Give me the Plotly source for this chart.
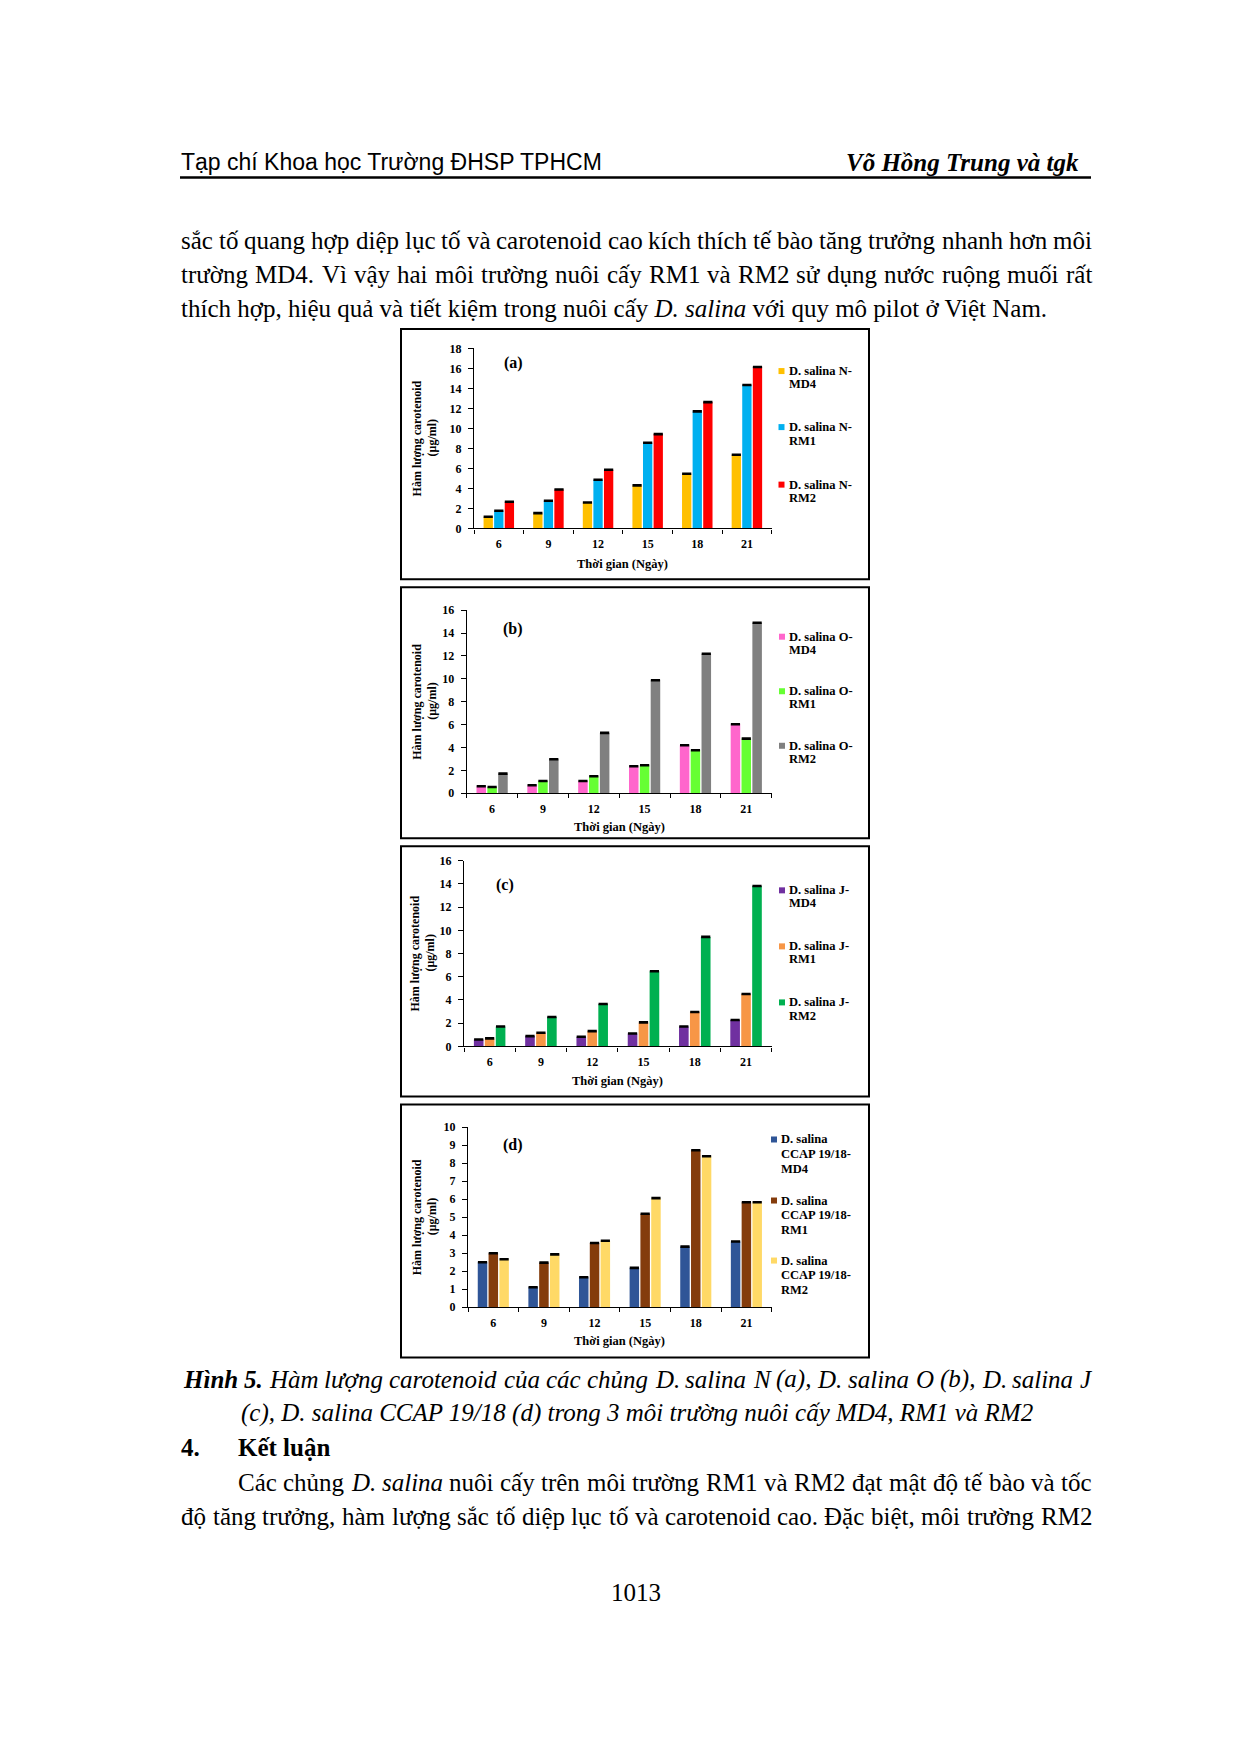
import unicodedata
import plotly.graph_objects as go

# Page is 1240x1754; the browser's default 8px body margin is kept,
# so the figure is 16px smaller and all page coordinates are offset by 8.
PAGE_W, PAGE_H = 1240, 1754
OFF = 8
W, H = PAGE_W - 2 * OFF, PAGE_H - 2 * OFF
# small vertical calibration of the page layout
V_SHIFT, V_SCALE = 7.2, 0.9914


def px(x):
    return (x - OFF) / W


def py(y):
    yy = (y - V_SHIFT) / V_SCALE
    return 1 - (yy - OFF) / H


# ---------------- data ----------------
days = ["6", "9", "12", "15", "18", "21"]

n_md4 = [1.17, 1.53, 2.6, 4.3, 5.47, 7.37]
n_rm1 = [1.77, 2.77, 4.87, 8.57, 11.7, 14.33]
n_rm2 = [2.67, 3.9, 5.87, 9.43, 12.63, 16.13]

o_md4 = [0.61, 0.7, 1.08, 2.36, 4.2, 6.03]
o_rm1 = [0.55, 1.08, 1.49, 2.45, 3.76, 4.78]
o_rm2 = [1.72, 2.97, 5.28, 9.88, 12.19, 14.9]

j_md4 = [0.6, 0.89, 0.83, 1.12, 1.72, 2.27]
j_rm1 = [0.69, 1.18, 1.32, 2.07, 2.96, 4.51]
j_rm2 = [1.72, 2.53, 3.65, 6.47, 9.43, 13.82]

c_md4 = [2.5, 1.11, 1.67, 2.19, 3.37, 3.65]
c_rm1 = [3.0, 2.48, 3.57, 5.19, 8.72, 5.83]
c_rm2 = [2.67, 2.94, 3.69, 6.06, 8.39, 5.83]

n_labels = [["D. salina N-", "MD4"], ["D. salina N-", "RM1"], ["D. salina N-", "RM2"]]
o_labels = [["D. salina O-", "MD4"], ["D. salina O-", "RM1"], ["D. salina O-", "RM2"]]
j_labels = [["D. salina J-", "MD4"], ["D. salina J-", "RM1"], ["D. salina J-", "RM2"]]
c_labels = [["D. salina", "CCAP 19/18-", "MD4"],
            ["D. salina", "CCAP 19/18-", "RM1"],
            ["D. salina", "CCAP 19/18-", "RM2"]]

y_title = ["Hàm lượng carotenoid", "(μg/ml)"]
x_title = "Thời gian (Ngày)"

# ---------------- page text ----------------
header_left = "Tạp chí Khoa học Trường ĐHSP TPHCM"
header_right = "Võ Hồng Trung và tgk"
para1 = [
    "sắc tố quang hợp diệp lục tố và carotenoid cao kích thích tế bào tăng trưởng nhanh hơn môi",
    "trường MD4. Vì vậy hai môi trường nuôi cấy RM1 và RM2 sử dụng nước ruộng muối rất",
]
para1_last = "thích hợp, hiệu quả và tiết kiệm trong nuôi cấy <i>D. salina</i> với quy mô pilot ở Việt Nam."
caption1 = "**Hình** **5.** Hàm lượng carotenoid của các chủng D. salina N (a), D. salina O (b), D. salina J"
caption2 = "(c), D. salina CCAP 19/18 (d) trong 3 môi trường nuôi cấy MD4, RM1 và RM2"
section_no = "4."
section_title = "Kết luận"
para2 = [
    "Các chủng *D.* *salina* nuôi cấy trên môi trường RM1 và RM2 đạt mật độ tế bào và tốc",
    "độ tăng trưởng, hàm lượng sắc tố diệp lục tố và carotenoid cao. Đặc biệt, môi trường RM2",
]
page_no = "1013"

# ---------------- styles ----------------
SERIF = "Liberation Serif, Times New Roman, serif"
SANS = "Liberation Sans, Arial, sans-serif"

panels = [
    dict(series=[n_md4, n_rm1, n_rm2], labels=n_labels,
         colors=["#FFC000", "#00B0F0", "#FF0000"], ymax=18, dtick=2, tag="(a)",
         frame=(401, 329, 869, 579), plot=(474, 348.3, 771.7, 528.3),
         ytx=424.5, xty=564, tag_xy=(513, 363),
         mx=781.5, tx=788, ly=[[371, 384], [427, 440.5], [484.5, 497.5]]),
    dict(series=[o_md4, o_rm1, o_rm2], labels=o_labels,
         colors=["#FF66CC", "#66FF33", "#808080"], ymax=16, dtick=2, tag="(b)",
         frame=(401, 587, 869, 838), plot=(466.7, 610, 771.7, 793),
         ytx=424.5, xty=827, tag_xy=(513, 629),
         mx=782, tx=788, ly=[[636.5, 650], [691, 704], [745.5, 758.5]]),
    dict(series=[j_md4, j_rm1, j_rm2], labels=j_labels,
         colors=["#7030A0", "#F79646", "#00B050"], ymax=16, dtick=2, tag="(c)",
         frame=(401, 846, 869, 1096), plot=(464, 860.3, 771.7, 1046),
         ytx=422.5, xty=1081, tag_xy=(505, 885),
         mx=782, tx=788, ly=[[890, 903], [946, 959], [1002, 1016]]),
    dict(series=[c_md4, c_rm1, c_rm2], labels=c_labels,
         colors=["#2F5597", "#843C0C", "#FFD966"], ymax=10, dtick=1, tag="(d)",
         frame=(401, 1104, 869, 1357), plot=(468, 1126.7, 771.7, 1306.7),
         ytx=424.5, xty=1340, tag_xy=(513, 1145),
         mx=774, tx=780, ly=[[1139, 1153.5, 1168], [1200, 1214, 1229], [1260, 1274.5, 1289]]),
]

# ---------------- font metrics (Times compatible) ----------------
def _tbl(lower, upper, extra):
    t = {}
    for ch, w in zip("abcdefghijklmnopqrstuvwxyz", lower):
        t[ch] = w
    for ch, w in zip("ABCDEFGHIJKLMNOPQRSTUVWXYZ", upper):
        t[ch] = w
    for d in "0123456789":
        t[d] = 500
    t.update(extra)
    return t


PUNCT = {" ": 250, ".": 250, ",": 250, "(": 333, ")": 333, "/": 278, "-": 333, ":": 278}
REG = _tbl([444, 500, 444, 500, 444, 333, 500, 500, 278, 278, 500, 278, 778, 500, 500, 500, 500, 333, 389, 278, 500, 500, 722, 500, 500, 444],
           [722, 667, 667, 722, 611, 556, 722, 722, 333, 389, 722, 611, 889, 722, 722, 556, 722, 667, 556, 611, 722, 722, 944, 722, 722, 611],
           dict(PUNCT, **{"đ": 500, "Đ": 722}))
ITA = _tbl([500, 500, 444, 500, 444, 278, 500, 500, 278, 278, 444, 278, 722, 500, 500, 500, 500, 389, 389, 278, 500, 444, 667, 444, 444, 389],
           [611, 611, 667, 722, 611, 611, 722, 722, 333, 444, 667, 556, 833, 667, 722, 611, 722, 611, 500, 556, 722, 611, 833, 611, 556, 556],
           dict(PUNCT, **{"đ": 500, "Đ": 722}))
BIT = _tbl([500, 500, 444, 500, 444, 333, 500, 556, 278, 278, 500, 278, 778, 556, 500, 500, 500, 389, 389, 278, 556, 444, 667, 500, 444, 389],
           [667, 667, 667, 722, 667, 667, 722, 778, 389, 500, 667, 611, 889, 722, 722, 611, 722, 667, 556, 611, 722, 667, 889, 667, 611, 611],
           dict(PUNCT, **{"đ": 500, "Đ": 722}))
TABLES = {"r": REG, "i": ITA, "bi": BIT}


def text_width(s, style, size):
    table = TABLES[style]
    tot = 0
    for ch in s:
        if ch in table:
            tot += table[ch]
            continue
        d = unicodedata.normalize("NFD", ch)
        w = table.get(d[0], 500)
        if "\u031b" in d:
            w += 40
        tot += w
    return tot * size / 1000


annotations = []
shapes = []


def add_text(txt, x, y, size, anchor="left", family=SERIF, angle=0, color="black"):
    annotations.append(dict(
        text=txt, x=px(x), y=py(y), xref="paper", yref="paper",
        xanchor=anchor, yanchor="middle", showarrow=False, borderpad=0,
        textangle=angle, font=dict(family=family, size=size, color=color)))


def justified(line, x0, x1, y, size, default="r"):
    toks = []
    for t in line.split():
        if t.startswith("**"):
            toks.append((t.strip("*"), "bi"))
        elif t.startswith("*"):
            toks.append((t.strip("*"), "i"))
        else:
            toks.append((t, default))
    widths = [text_width(t, s, size) for t, s in toks]
    gap = (x1 - x0 - sum(widths)) / (len(toks) - 1)
    x = x0
    for (t, s), w in zip(toks, widths):
        txt = {"r": t, "i": f"<i>{t}</i>", "bi": f"<b><i>{t}</i></b>"}[s]
        add_text(txt, x, y, size, "left")
        x += w + gap


fig = go.Figure()

BODY = 25
LEFT, RIGHT = 180, 1091

# header
add_text(header_left, LEFT, 162, 23, "left", family=SANS)
add_text(f"<b><i>{header_right}</i></b>", 1080, 163, 25, "right")
shapes.append(dict(type="line", xref="paper", yref="paper", x0=px(LEFT), x1=px(RIGHT),
                   y0=py(177.5), y1=py(177.5), line=dict(color="black", width=2.5)))

# paragraph 1
justified(para1[0], LEFT, RIGHT, 240.5, BODY)
justified(para1[1], LEFT, RIGHT, 274.5, BODY)
add_text(para1_last, LEFT, 308.5, BODY, "left")

# caption and conclusion
justified(caption1, 182, 1090, 1378.5, BODY, default="i")
add_text(f"<i>{caption2}</i>", 637.5, 1412, BODY, "center")
add_text(f"<b>{section_no}</b>", LEFT, 1447, BODY, "left")
add_text(f"<b>{section_title}</b>", 237, 1447, BODY, "left")
justified(para2[0], 237, RIGHT, 1481.5, BODY)
justified(para2[1], LEFT, RIGHT, 1516, BODY)
add_text(page_no, 636, 1592, BODY, "center")

# charts
TICKF = dict(family=SERIF, size=12, color="black", weight="bold")
for i, p in enumerate(panels):
    n = "" if i == 0 else str(i + 1)
    xa, ya = "x" + n, "y" + n
    x0, yt, x1, yb = p["plot"]
    cap = 0.55 * p["ymax"] / (yb - yt)
    for vals, lab, col in zip(p["series"], p["labels"], p["colors"]):
        fig.add_trace(go.Bar(
            x=days, y=vals, name=" ".join(lab), marker=dict(color=col, line=dict(width=0)),
            error_y=dict(type="constant", value=cap, color="black", thickness=1.5, width=4.6),
            xaxis=xa, yaxis=ya, showlegend=False))
    fig.update_layout(**{
        "xaxis" + n: dict(domain=[px(x0), px(x1)], anchor=ya, type="category",
                          showline=True, linecolor="black", linewidth=1.3,
                          ticks="outside", tickson="boundaries", ticklen=4, tickwidth=1.3,
                          tickcolor="black", showgrid=False, zeroline=False,
                          tickfont=TICKF, ticklabelstandoff=4, fixedrange=True),
        "yaxis" + n: dict(domain=[py(yb), py(yt)], anchor=xa, range=[0, p["ymax"]],
                          dtick=p["dtick"], tick0=0, showline=True, linecolor="black",
                          linewidth=1.3, ticks="outside", ticklen=5, tickwidth=1.3,
                          tickcolor="black", showgrid=False, zeroline=False,
                          tickfont=TICKF, ticklabelstandoff=4, fixedrange=True),
    })
    fx0, fy0, fx1, fy1 = p["frame"]
    shapes.append(dict(type="rect", xref="paper", yref="paper", x0=px(fx0), x1=px(fx1),
                       y0=py(fy1), y1=py(fy0), line=dict(color="black", width=2)))
    # axis titles
    yc = (yt + yb) / 2
    add_text(f"<b>{y_title[0]}</b>", p["ytx"] - 7.5, yc, 12, "center", angle=-90)
    add_text(f"<b>{y_title[1]}</b>", p["ytx"] + 7.5, yc, 12, "center", angle=-90)
    add_text(f"<b>{x_title}</b>", (x0 + x1) / 2, p["xty"], 12.5, "center")
    add_text(f"<b>{p['tag']}</b>", p["tag_xy"][0], p["tag_xy"][1], 16, "center")
    # legend
    for lab, col, ys in zip(p["labels"], p["colors"], p["ly"]):
        m = 3
        shapes.append(dict(type="rect", xref="paper", yref="paper",
                           x0=px(p["mx"] - m), x1=px(p["mx"] + m),
                           y0=py(ys[0] + m), y1=py(ys[0] - m),
                           fillcolor=col, line=dict(width=0)))
        for line_txt, yy in zip(lab, ys):
            add_text(f"<b>{line_txt}</b>", p["tx"], yy, 12.5, "left")

fig.update_layout(
    width=W, height=H, autosize=False,
    margin=dict(l=0, r=0, t=0, b=0, pad=0),
    paper_bgcolor="white", plot_bgcolor="white",
    barmode="group", bargap=0.36, bargroupgap=0.12,
    showlegend=False,
    annotations=annotations, shapes=shapes,
)

fig.write_html("out.html", config={"displayModeBar": False})
